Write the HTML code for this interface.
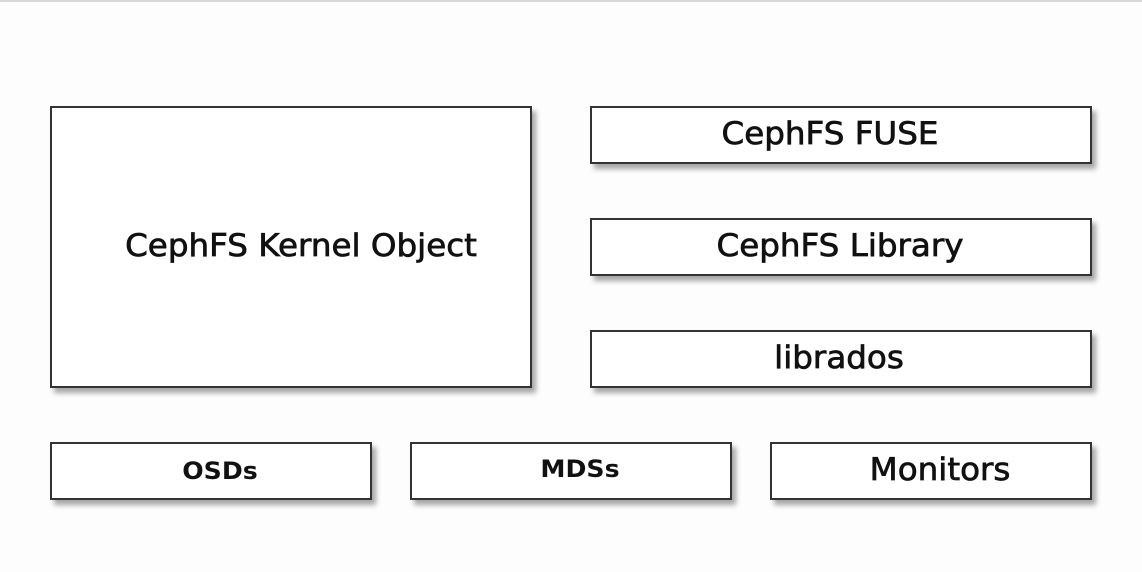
<!DOCTYPE html>
<html><head><style>
html,body{margin:0;padding:0}
body{width:1142px;height:572px;background:#fdfdfd;position:relative;overflow:hidden;font-family:"DejaVu Sans","Liberation Sans",sans-serif;color:#111}
.top{position:absolute;left:0;top:0;width:1142px;height:2px;background:#d8d8d8}
.b{position:absolute;box-sizing:border-box;border:2px solid #333;background:#fff;box-shadow:4px 5px 5px rgba(0,0,0,0.35)}
.t{position:absolute;white-space:nowrap;transform:translate(-50%,-50%) scaleX(1.05);font-size:31px;-webkit-text-stroke:0.7px #111}
.s{font-size:24px;font-weight:bold;-webkit-text-stroke:0}
</style></head><body>
<div class="top"></div>
<div class="b" style="left:50px;top:106px;width:482px;height:282px"></div>
<div class="b" style="left:590px;top:106px;width:502px;height:58px"></div>
<div class="b" style="left:590px;top:218px;width:502px;height:58px"></div>
<div class="b" style="left:590px;top:330px;width:502px;height:58px"></div>
<div class="b" style="left:50px;top:442px;width:322px;height:58px"></div>
<div class="b" style="left:410px;top:442px;width:322px;height:58px"></div>
<div class="b" style="left:770px;top:442px;width:322px;height:58px"></div>
<div class="t" style="left:301px;top:246px">CephFS Kernel Object</div>
<div class="t" style="left:830px;top:134px">CephFS FUSE</div>
<div class="t" style="left:840px;top:246px">CephFS Library</div>
<div class="t" style="left:839px;top:358px">librados</div>
<div class="t s" style="left:220px;top:471px">OSDs</div>
<div class="t s" style="left:580px;top:469px">MDSs</div>
<div class="t" style="left:940px;top:470px">Monitors</div>
</body></html>
